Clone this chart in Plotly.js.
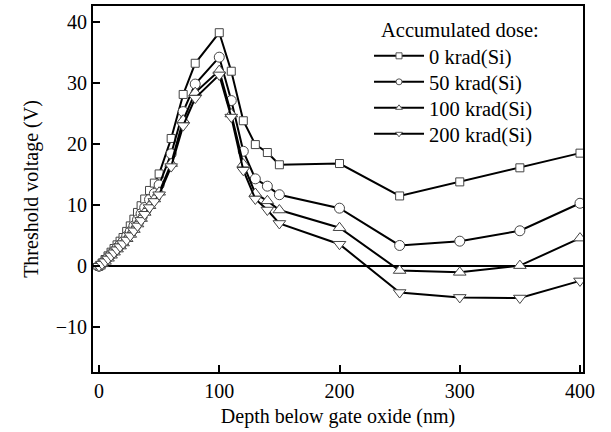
<!DOCTYPE html>
<html>
<head>
<meta charset="utf-8">
<script src="https://cdn.plot.ly/plotly-3.0.1.min.js"></script>
<style>html,body{margin:0;padding:0;background:#fff;}#chart{width:611px;height:432px;}</style>
</head>
<body>
<div id="chart"></div>
<script>
// Depth below gate oxide (nm)
const depth = [0, 2.5, 5, 7.5, 10, 12.5, 15, 17.5, 20, 23, 26, 29, 32, 35, 38, 42, 46, 50, 60, 70, 80, 100, 110, 120, 130, 140, 150, 200, 250, 300, 350, 400];
// Threshold voltage (V) for each accumulated dose
const vth0 = [0, 0.5, 1.1, 1.7, 2.3, 2.9, 3.5, 4.1, 4.7, 5.7, 6.6, 7.7, 8.8, 9.9, 11.0, 12.4, 13.6, 15.1, 20.9, 28.1, 33.2, 38.2, 31.9, 23.8, 19.9, 18.6, 16.6, 16.8, 11.5, 13.8, 16.1, 18.5];
const vth50 = [0, 0.4, 0.9, 1.4, 1.9, 2.4, 3.0, 3.5, 4.0, 4.9, 5.7, 6.6, 7.6, 8.6, 9.6, 10.9, 11.9, 13.3, 18.4, 25.3, 29.8, 34.2, 27.1, 18.8, 14.3, 13.1, 11.7, 9.5, 3.4, 4.1, 5.8, 10.3];
const vth100 = [0, 0.4, 0.8, 1.3, 1.8, 2.3, 2.8, 3.3, 3.8, 4.5, 5.2, 6.0, 6.9, 7.8, 8.8, 9.9, 11.0, 12.1, 16.8, 23.9, 28.4, 32.0, 24.9, 16.7, 11.9, 10.7, 9.2, 6.3, -0.7, -1.0, 0.1, 4.6];
const vth200 = [0, 0.35, 0.75, 1.2, 1.7, 2.2, 2.7, 3.2, 3.7, 4.3, 5.0, 5.8, 6.6, 7.5, 8.5, 9.6, 10.6, 11.7, 16.3, 23.0, 27.5, 31.3, 24.4, 15.7, 11.0, 9.2, 7.0, 3.6, -4.3, -5.1, -5.2, -2.4];
const seriesNames = ['0 krad(Si)', '50 krad(Si)', '100 krad(Si)', '200 krad(Si)'];
const legendTitle = 'Accumulated dose:';
const seriesData = [vth0, vth50, vth100, vth200];
const symbols = ['square', 'circle', 'triangle-up', 'triangle-down'];
const sizes = [8, 10, 11, 11];
const legendIds = ['legend', 'legend2', 'legend3', 'legend4'];
const legendY = [0.8634, 0.7923, 0.7213, 0.6503];

const FONT = '"Liberation Serif", "Times New Roman", serif';
const traces = [];
seriesData.forEach((ys, i) => {
  traces.push({
    x: depth, y: ys, type: 'scatter', mode: 'lines+markers', showlegend: false,
    line: {color: '#000', width: 2},
    marker: {symbol: symbols[i], size: sizes[i], color: '#fff', line: {color: '#444', width: 1}}
  });
});
seriesData.forEach((ys, i) => {
  traces.push({
    x: [null], y: [null], type: 'scatter', mode: 'lines+markers', name: seriesNames[i],
    legend: legendIds[i],
    line: {color: '#000', width: 2},
    marker: {symbol: symbols[i], size: 6, color: '#fff', line: {color: '#555', width: 1}}
  });
});

const layout = {
  width: 611, height: 432,
  margin: {l: 93, r: 28, t: 6, b: 60},
  paper_bgcolor: '#fff', plot_bgcolor: '#fff',
  font: {family: FONT, size: 20, color: '#000'},
  showlegend: true,
  annotations: [{
    text: legendTitle, xref: 'paper', yref: 'paper', x: 0.748, y: 0.934,
    xanchor: 'center', yanchor: 'middle', showarrow: false,
    font: {family: FONT, size: 20.5, color: '#000'}
  }],
  xaxis: {
    range: [-5, 402.5], tickvals: [0, 100, 200, 300, 400],
    ticks: 'inside', ticklen: 7, tickwidth: 2, tickcolor: '#000',
    showline: true, linewidth: 2, linecolor: '#000', mirror: true,
    showgrid: false, zeroline: false,
    tickfont: {family: FONT, size: 20, color: '#000'},
    title: {text: 'Depth below gate oxide (nm)', font: {family: FONT, size: 20, color: '#000'}, standoff: 8}
  },
  yaxis: {
    range: [-17.3, 42.57], tickvals: [-10, 0, 10, 20, 30, 40],
    ticks: 'inside', ticklen: 7, tickwidth: 2, tickcolor: '#000',
    showline: true, linewidth: 2, linecolor: '#000', mirror: true,
    showgrid: false, zeroline: true, zerolinewidth: 2, zerolinecolor: '#000',
    tickfont: {family: FONT, size: 20, color: '#000'},
    title: {text: 'Threshold voltage (V)', font: {family: FONT, size: 20, color: '#000'}, standoff: 12}
  }
};
legendIds.forEach((id, i) => {
  layout[id] = {
    x: 0.5633, y: legendY[i], xanchor: 'left', yanchor: 'middle',
    bgcolor: 'rgba(0,0,0,0)', borderwidth: 0, itemwidth: 50,
    font: {family: FONT, size: 20.5, color: '#000'}
  };
});
Plotly.newPlot('chart', traces, layout, {displayModeBar: false, staticPlot: true});
</script>
</body>
</html>
